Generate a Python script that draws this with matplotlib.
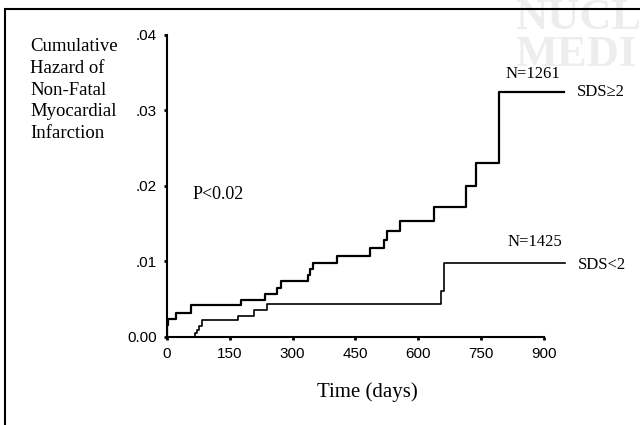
import matplotlib.pyplot as plt
from matplotlib.patches import Rectangle

# SDS>=2 group (N=1261): step times in days and cumulative hazard
high_days = [0, 1, 3, 21, 57, 176, 234, 263, 272, 337, 341, 350, 406, 485, 519, 525, 557, 638, 714, 738, 794, 950]
high_haz = [0, 0.0015, 0.0024, 0.0032, 0.0042, 0.0049, 0.0057, 0.0065, 0.0074, 0.0082, 0.0090, 0.0098,
            0.0107, 0.0117, 0.0128, 0.0140, 0.0153, 0.0172, 0.0199, 0.0230, 0.0324, 0.0324]

# SDS<2 group (N=1425)
low_days = [0, 67, 72, 77, 84, 169, 208, 240, 655, 663, 952]
low_haz = [0, 0.0005, 0.0009, 0.0014, 0.0022, 0.0028, 0.0035, 0.0043, 0.0061, 0.0097, 0.0097]

x_ticks = [0, 150, 300, 450, 600, 750, 900]
y_ticks = [0.0, 0.01, 0.02, 0.03, 0.04]
y_tick_labels = ["0.00", ".01", ".02", ".03", ".04"]

serif = "Liberation Serif"
sans = "Liberation Sans"

fig = plt.figure(figsize=(6.4, 4.25), dpi=100)

# faint watermark of the source journal (cut off at the top right, as in the scan)
fig.text(515 / 640, 1 - 29 / 425, "NUCL", fontsize=32, family=serif, weight="bold",
         color="#ededed", va="baseline", ha="left", zorder=0)
fig.text(515 / 640, 1 - 66 / 425, "MEDI", fontsize=32, family=serif, weight="bold",
         color="#ededed", va="baseline", ha="left", zorder=0)

# outer frame, partly cut off at right and bottom
fig.patches.append(Rectangle((5 / 640, -0.1), 2.0, 1.1 - 9 / 425, transform=fig.transFigure,
                             fill=False, edgecolor="black", linewidth=1.5, zorder=2))

ax = fig.add_axes([167 / 640, 1 - 336.7 / 425, 401.6 / 640, 302.2 / 425])
ax.patch.set_alpha(0)
ax.step(high_days, high_haz, where="post", color="black", linewidth=1.6)
ax.step(low_days, low_haz, where="post", color="black", linewidth=1.2)

ax.set_xlim(0, 960)
ax.set_ylim(0, 0.04)
ax.set_xticks(x_ticks)
ax.set_yticks(y_ticks)
ax.set_yticklabels(y_tick_labels)
for s in ["top", "right"]:
    ax.spines[s].set_visible(False)
ax.spines["bottom"].set_bounds(0, 900)
ax.spines["left"].set_linewidth(1.5)
ax.spines["bottom"].set_linewidth(1.5)
ax.tick_params(direction="out", length=2.5, width=2, labelsize=11, pad=5)
for lbl in ax.get_xticklabels() + ax.get_yticklabels():
    lbl.set_family(sans)

ax.set_xlabel("Time (days)", family=serif, fontsize=15, labelpad=15)

fig.text(30 / 640, 1 - 38 / 425, "Cumulative\nHazard of\nNon-Fatal\nMyocardial\nInfarction",
         family=serif, fontsize=13.5, va="top", ha="left", linespacing=1.37)

ax.text(810, 0.0348, "N=1261", family=serif, fontsize=12, va="center", ha="left")
ax.text(980, 0.0324, "SDS≥2", family=serif, fontsize=12, va="center", ha="left")
ax.text(815, 0.0125, "N=1425", family=serif, fontsize=12, va="center", ha="left")
ax.text(982, 0.0095, "SDS<2", family=serif, fontsize=12, va="center", ha="left")
ax.text(62, 0.0188, "P<0.02", family=serif, fontsize=13, va="center", ha="left")

fig.savefig("out.png", dpi=100)
